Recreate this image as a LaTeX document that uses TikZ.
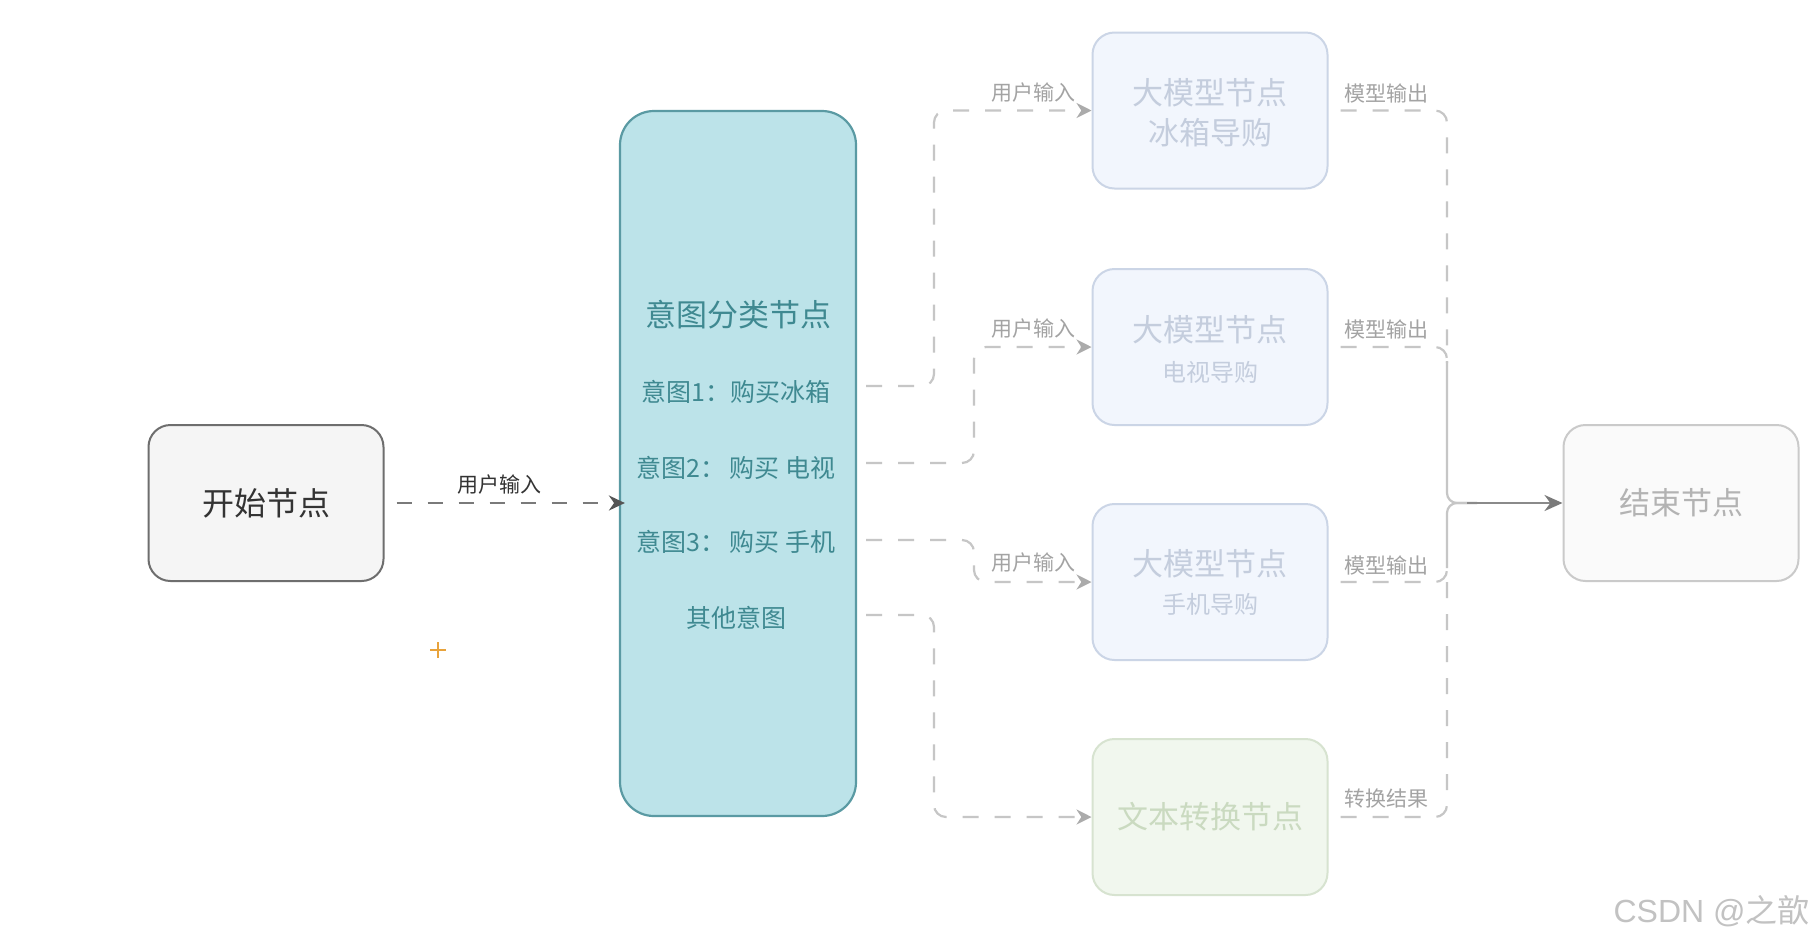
\documentclass[tikz,border=0pt]{standalone}
\usepackage{fontspec}
\setmainfont{Noto Sans CJK SC}
\newfontfamily\latinsans{Liberation Sans}
\usetikzlibrary{arrows.meta,calc}
\definecolor{startfill}{HTML}{F5F5F5}
\definecolor{startline}{HTML}{6E6E6E}
\definecolor{starttext}{HTML}{333333}
\definecolor{intfill}{HTML}{BCE3E9}
\definecolor{intline}{HTML}{5A9AA3}
\definecolor{inttext}{HTML}{3F8991}
\definecolor{llmfill}{HTML}{F2F6FD}
\definecolor{llmline}{HTML}{CBD5E6}
\definecolor{llmtext}{HTML}{C4CDDD}
\definecolor{txtfill}{HTML}{F1F7EE}
\definecolor{txtline}{HTML}{D7E3D0}
\definecolor{txttext}{HTML}{CADAC0}
\definecolor{endfill}{HTML}{FAFAFA}
\definecolor{endline}{HTML}{CACACA}
\definecolor{endtext}{HTML}{B3B3B3}
\definecolor{dkline}{HTML}{7A7A7A}
\definecolor{dktip}{HTML}{555555}
\definecolor{ltline}{HTML}{C6C6C6}
\definecolor{lttip}{HTML}{ABABAB}
\definecolor{mdline}{HTML}{8A8A8A}
\definecolor{lbltext}{HTML}{A3A3A3}
\definecolor{wmtext}{HTML}{C2C2C2}
\definecolor{plusor}{HTML}{E8A33C}
\begin{document}
\begin{tikzpicture}[x=0.5pt,y=-0.5pt,
  basebox/.style={draw, rounded corners=11pt, minimum width=117.5pt, minimum height=78pt, line width=1pt, inner sep=0pt},
  startbox/.style={basebox, fill=startfill, draw=startline, text=starttext, font=\fontsize{16}{19}\selectfont},
  intentbox/.style={basebox, fill=intfill, draw=intline, minimum width=118pt, minimum height=352.5pt, rounded corners=17pt, line width=1.1pt},
  llmbox/.style={basebox, fill=llmfill, draw=llmline},
  txtbox/.style={basebox, fill=txtfill, draw=txtline, text=txttext, font=\fontsize{15.5}{18}\selectfont},
  endbox/.style={basebox, fill=endfill, draw=endline, text=endtext, font=\fontsize{15.5}{18}\selectfont},
  inttitle/.style={text=inttext, font=\fontsize{15.5}{18}\selectfont, inner sep=0pt},
  intitem/.style={text=inttext, font=\fontsize{12.5}{15}\selectfont, inner sep=0pt},
  llmtitle/.style={text=llmtext, font=\fontsize{15.5}{18}\selectfont, inner sep=0pt},
  llmsub/.style={text=llmtext, font=\fontsize{12}{14}\selectfont, inner sep=0pt},
  elabel/.style={text=lbltext, font=\fontsize{10.5}{12}\selectfont, inner sep=0pt},
  dlabel/.style={text=starttext, font=\fontsize{10.5}{12}\selectfont, inner sep=0pt},
  dkconn/.style={draw=dkline, line width=1.2pt, dash pattern=on 7.5pt off 8pt, -{Stealth[length=8pt,width=7.5pt,color=dktip]}},
  fconn/.style={draw=ltline, line width=1.1pt, dash pattern=on 8pt off 8pt, rounded corners=6pt},
  farrow/.style={fconn, -{Stealth[length=7.5pt,width=7.5pt,color=lttip]}},
  sconn/.style={draw=ltline, line width=1.1pt, rounded corners=5pt},
]
\useasboundingbox[fill=white] (0,0) rectangle (1816,944);

% nodes
\node[startbox] (start) at (266,503) {开始节点};
\node[intentbox] (intent) at (738,463.5) {};
\node[llmbox] (llm1) at (1210,110.5) {};
\node[llmbox] (llm2) at (1210,347) {};
\node[llmbox] (llm3) at (1210,582) {};
\node[txtbox] (txt) at (1210,817) {文本转换节点};
\node[endbox] (end) at (1681,503) {结束节点};

% intent texts
\node[inttitle] (it0) at (738,315) {意图分类节点};
\node[intitem] (it1) at (736,392) {意图1：购买冰箱};
\node[intitem] (it2) at (736,468) {意图2：\,购买 电视};
\node[intitem] (it3) at (736,542) {意图3：\,购买 手机};
\node[intitem] (it4) at (736,618) {其他意图};

% llm texts
\node[llmtitle] (l1t) at (1210,93) {大模型节点};
\node[llmtitle] (l1s) at (1210,133) {冰箱导购};
\node[llmtitle] (l2t) at (1210,330) {大模型节点};
\node[llmsub] (l2s) at (1210,372) {电视导购};
\node[llmtitle] (l3t) at (1210,564) {大模型节点};
\node[llmsub] (l3s) at (1210,604) {手机导购};

% start -> intent
\draw[dkconn, shorten <=6pt, shorten >=-3pt] (start.east) -- (start.east -| intent.west);
\node[dlabel] (lb0) at (499,485) {用户输入};

% intent exits and buses
\coordinate (ox1) at (866,386);
\coordinate (ox2) at (866,463);
\coordinate (ox3) at (866,540);
\coordinate (ox4) at (866,615);
\coordinate (busL) at (934,0);
\coordinate (busM) at (974,0);
\coordinate (jn) at (1447,503);

\draw[farrow] (ox1) -- (ox1 -| busL) |- (llm1.west);
\draw[farrow] (ox2) -- (ox2 -| busM) |- (llm2.west);
\draw[farrow] (ox3) -- (ox3 -| busM) |- (llm3.west);
\draw[farrow] (ox4) -- (ox4 -| busL) |- (txt.west);

\node[elabel] (lb1) at (1033,93) {用户输入};
\node[elabel] (lb2) at (1033,329) {用户输入};
\node[elabel] (lb3) at (1033,563) {用户输入};

% outputs
\draw[fconn, shorten <=6pt] (llm1.east) -| ($(jn |- llm2.east)+(0,16)$);
\draw[fconn, shorten <=6pt] (llm2.east) -| ($(jn |- llm2.east)+(0,16)$);
\draw[fconn, shorten <=6pt] (llm3.east) -| ($(jn |- llm3.east)+(0,-16)$);
\draw[fconn, shorten <=6pt] (txt.east) -| ($(jn |- llm3.east)+(0,-16)$);
\draw[sconn] ($(jn |- llm2.east)+(0,14)$) |- ($(jn)+(30,0)$);
\draw[sconn] ($(jn |- llm3.east)+(0,-14)$) |- ($(jn)+(30,0)$);
\draw[draw=mdline, line width=1.3pt, -{Stealth[length=9pt,width=8pt,color=dkline]}] ($(jn)+(20,0)$) -- (end.west);

\node[elabel] (lo1) at (1386,93) {模型输出};
\node[elabel] (lo2) at (1386,329) {模型输出};
\node[elabel] (lo3) at (1386,565) {模型输出};
\node[elabel] (lo4) at (1386,798) {转换结果};

% cursor plus
\draw[plusor, line width=1pt] (430,650) -- (446,650) (438,642) -- (438,658);

% watermark
\node[text=wmtext, font=\fontsize{16}{19}\selectfont, anchor=east, inner sep=0pt] (wm) at (1810,911) {{\latinsans CSDN @}之歆};
\end{tikzpicture}
\end{document}
